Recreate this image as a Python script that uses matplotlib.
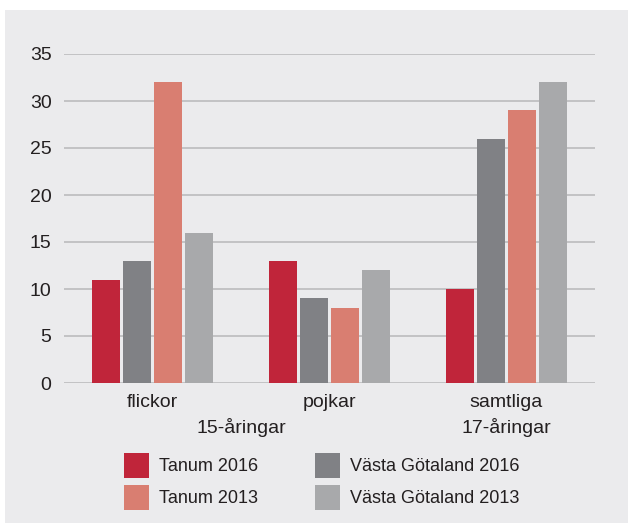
import matplotlib.pyplot as plt
import numpy as np
from matplotlib.patches import Rectangle

plt.rcParams['font.family'] = ['Liberation Sans', 'DejaVu Sans']

categories = ["flickor", "pojkar", "samtliga"]
series = ["Tanum 2016", "Västa Götaland 2016", "Tanum 2013", "Västa Götaland 2013"]
tanum_2016 = [11, 13, 10]
vg_2016 = [13, 9, 26]
tanum_2013 = [32, 8, 29]
vg_2013 = [16, 12, 32]
colors = ["#c0253a", "#808185", "#d97e71", "#a8a9ab"]
yticks = [0, 5, 10, 15, 20, 25, 30, 35]

fig = plt.figure(figsize=(6.28, 5.25), dpi=100)
fig.patch.set_facecolor("white")

# grey panel behind everything
bg = fig.add_axes([0, 0, 1, 1], zorder=-1)
bg.axis("off")
bg.add_patch(Rectangle((5 / 628, 2 / 525), 623 / 628, 513 / 525,
                       facecolor="#ebebed", edgecolor="none"))

ax = fig.add_axes([64 / 628, 1 - 383 / 525, 531 / 628, 329 / 525])
ax.set_facecolor("none")

x = np.arange(len(categories))
width = 0.158
step = 0.175
values = [tanum_2016, vg_2016, tanum_2013, vg_2013]
for i, vals in enumerate(values):
    ax.bar(x + (i - 1.5) * step, vals, width, color=colors[i], zorder=3,
           label=series[i])

ax.set_xlim(-0.5, 2.5)
ax.set_ylim(0, 35)
ax.set_yticks(yticks)
ax.yaxis.grid(True, color="#b7b7b9", linewidth=1.1, zorder=0)
ax.set_axisbelow(True)
for s in ax.spines.values():
    s.set_visible(False)
ax.tick_params(axis="y", length=0, pad=9, labelsize=14, labelcolor="#231f20")
ax.set_xticks(x)
ax.set_xticklabels(categories, fontsize=14, color="#231f20")
ax.tick_params(axis="x", length=0, pad=8)

# age group labels under the categories
ax.text(0.5, -0.135, "15-åringar", transform=ax.get_xaxis_transform(),
        ha="center", va="center", fontsize=14, color="#231f20")
ax.text(2.0, -0.135, "17-åringar", transform=ax.get_xaxis_transform(),
        ha="center", va="center", fontsize=14, color="#231f20")

handles, labels = ax.get_legend_handles_labels()
order = [0, 2, 1, 3]
fig.legend([handles[k] for k in order], [labels[k] for k in order],
           loc="upper left", bbox_to_anchor=(124 / 628, 1 - 453 / 525),
           ncol=2, frameon=False, fontsize=13, handlelength=1.385,
           handleheight=1.75, handletextpad=0.55, columnspacing=3.15,
           labelspacing=0.37, borderpad=0, borderaxespad=0,
           labelcolor="#231f20")

fig.savefig("out.png", dpi=100)
